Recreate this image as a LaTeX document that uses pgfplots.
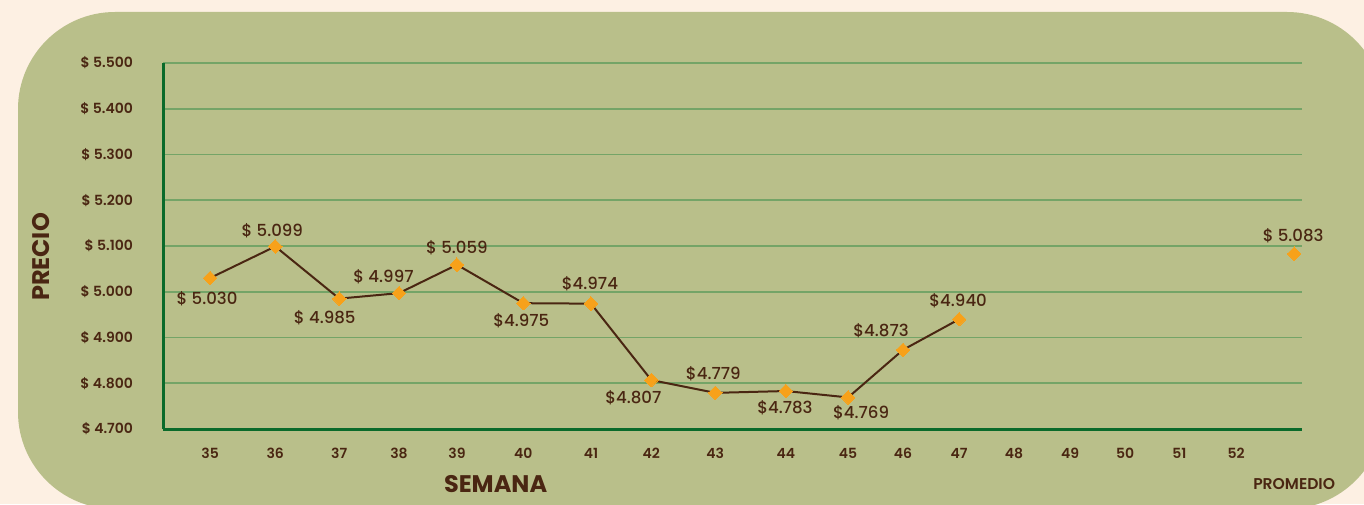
\documentclass[border=0pt]{standalone}
\usepackage{pgfplots}
\usepackage{pgfplotstable}
\pgfplotsset{compat=1.18}
\usepackage{fontspec}
\setmainfont{Poppins}
\newfontfamily\popmed{Poppins Medium}
\newfontfamily\popsemi{Poppins SemiBold}
\newfontfamily\popbold{Poppins Bold}
\definecolor{cream}{HTML}{FDF0E3}
\definecolor{olivebg}{HTML}{B9BF8A}
\definecolor{gridg}{HTML}{74A467}
\definecolor{axisg}{HTML}{0A6A2A}
\definecolor{txt}{HTML}{4A2612}
\definecolor{mk}{HTML}{F7A11A}

\pgfplotstableread{
x y lab dx dy
35.00 5.030 {\$~5.030} -1.5 -10.5
36.08 5.099 {\$~5.099} -1.5 8
37.14 4.985 {\$~4.985} -7.25 -9.5
38.13 4.997 {\$~4.997} -7.75 8
39.09 5.059 {\$~5.059} 0 8.5
40.19 4.975 {\$4.975} -1 -9
41.31 4.974 {\$4.974} -0.5 10
42.31 4.807 {\$4.807} -9 -9
43.37 4.779 {\$4.779} -1 9.5
44.54 4.783 {\$4.783} -0.5 -8.5
45.57 4.769 {\$4.769} 6.5 -7.5
46.48 4.873 {\$4.873} -11 9.5
47.41 4.940 {\$4.940} -0.5 9
}\weektable

\pgfplotstableread{
x y lab dx dy
52.96 5.083 {\$~5.083} -0.5 9
}\promtable

\begin{document}
\begin{tikzpicture}
\useasboundingbox (0,0) rectangle (682pt,252pt);
\fill[cream] (0,0) rectangle (682pt,252pt);
\begin{scope}
\clip (0,0) rectangle (682pt,252pt);
\fill[olivebg, rounded corners=48.5pt] (9pt,-2.5pt) rectangle (692pt,246pt);
\end{scope}
\begin{axis}[
  at={(81.5pt,37.5pt)}, anchor=south west,
  scale only axis, width=569.5pt, height=183pt,
  xmin=34.22, xmax=53.09, ymin=4.7, ymax=5.5,
  clip=false,
  axis x line=bottom, axis y line=left,
  axis line style={-, draw=axisg, line width=1.5pt},
  major tick length=0pt,
  xtick={35.00,36.08,37.14,38.13,39.09,40.19,41.31,42.31,43.37,44.54,45.57,46.48,47.41,48.32,49.25,50.16,51.06,52.00},
  xticklabels={35,36,37,38,39,40,41,42,43,44,45,46,47,48,49,50,51,52},
  extra x ticks={52.96},
  extra x tick labels={PROMEDIO},
  extra x tick style={xticklabel style={yshift=-15pt, font=\popsemi\fontsize{7.8}{9}\selectfont}},
  ytick={4.7,4.8,4.9,5.0,5.1,5.2,5.3,5.4,5.5},
  yticklabels={\$~4.700,\$~4.800,\$~4.900,\$~5.000,\$~5.100,\$~5.200,\$~5.300,\$~5.400,\$~5.500},
  xticklabel style={font=\popsemi\fontsize{7}{8}\selectfont, text=txt, yshift=-6pt},
  yticklabel style={font=\popsemi\fontsize{7}{8}\selectfont, text=txt, xshift=-11.5pt},
  ymajorgrids,
  grid style={gridg, line width=0.9pt},
  xlabel={SEMANA}, ylabel={PRECIO},
  xlabel style={at={(axis description cs:0.292,-0.150)}, anchor=center, font=\popbold\fontsize{12}{13}\selectfont, text=txt},
  ylabel style={at={(axis description cs:-0.107,0.470)}, anchor=center, rotate=0, font=\popbold\fontsize{12}{13}\selectfont, text=txt},
  every node near coord/.append style={anchor=center, xshift=\dx pt, yshift=\dy pt, font=\popmed\fontsize{8.3}{9}\selectfont, text=txt},
]
\addplot[color=txt, line width=1pt, mark=square*, mark size=2.4pt,
  mark options={fill=mk, draw=mk, line width=0pt, rotate=45},
  nodes near coords, point meta=explicit symbolic,
  visualization depends on={\thisrow{dx} \as \dx},
  visualization depends on={\thisrow{dy} \as \dy}]
  table[x=x, y=y, meta=lab]{\weektable};
\addplot[only marks, mark=square*, mark size=2.4pt,
  mark options={fill=mk, draw=mk, line width=0pt, rotate=45},
  nodes near coords, point meta=explicit symbolic,
  visualization depends on={\thisrow{dx} \as \dx},
  visualization depends on={\thisrow{dy} \as \dy}]
  table[x=x, y=y, meta=lab]{\promtable};
\end{axis}
\end{tikzpicture}
\end{document}
